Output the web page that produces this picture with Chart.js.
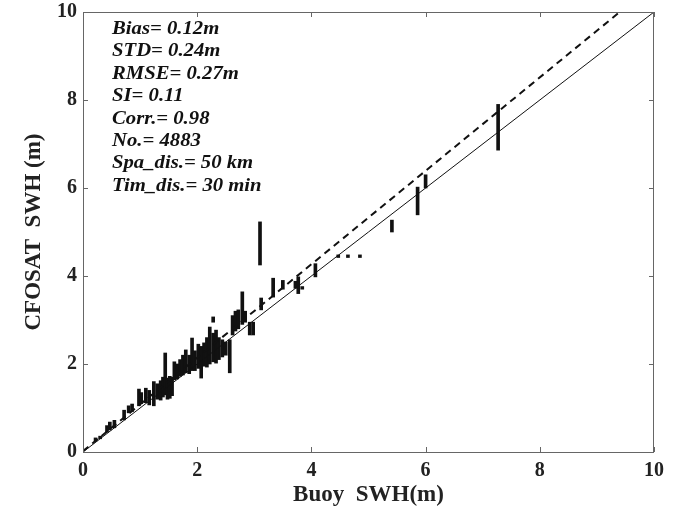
<!DOCTYPE html>
<html>
<head>
<meta charset="utf-8">
<script src="https://cdn.jsdelivr.net/npm/chart.js@4.4.1/dist/chart.umd.min.js"></script>
<style>
  html, body { margin: 0; padding: 0; background: #fff; }
  #wrap { width: 690px; height: 513px; position: relative; }
</style>
</head>
<body>
<div id="wrap"><canvas id="c"></canvas></div>
<script>
// buoy SWH of each vertical cluster, with lowest/highest CFOSAT SWH
const colX  = [0.22, 0.30, 0.42, 0.47, 0.55, 0.72, 0.80, 0.86, 0.98, 1.02, 1.10, 1.16, 1.24, 1.30, 1.36, 1.40,
               1.44, 1.48, 1.52, 1.56, 1.60, 1.65, 1.70, 1.75, 1.80, 1.86, 1.91, 1.96, 2.02, 2.07, 2.12, 2.17,
               2.22, 2.28, 2.28, 2.33, 2.38, 2.44, 2.50, 2.57, 2.62, 2.67, 2.72, 2.79, 2.84, 2.92, 2.98, 3.10,
               3.12, 3.33, 3.50, 3.72, 3.77, 3.84, 4.07, 4.47, 4.64, 4.85, 5.41, 5.86, 6.00, 7.27];
const colLo = [0.25, 0.30, 0.45, 0.50, 0.55, 0.73, 0.89, 0.92, 1.05, 1.10, 1.12, 1.07, 1.05, 1.20, 1.18, 1.25,
               1.30, 1.20, 1.22, 1.28, 1.64, 1.66, 1.72, 1.75, 1.80, 1.78, 1.85, 1.85, 1.90, 1.68, 1.95, 1.93,
               2.00, 2.05, 2.95, 2.02, 2.10, 2.16, 2.20, 1.80, 2.66, 2.75, 2.80, 2.90, 2.95, 2.66, 2.66, 4.25,
               3.23, 3.52, 3.70, 3.72, 3.60, 3.70, 3.98, 4.42, 4.42, 4.42, 5.00, 5.39, 6.00, 6.86];
const colHi = [0.32, 0.36, 0.60, 0.68, 0.72, 0.95, 1.05, 1.09, 1.43, 1.35, 1.45, 1.40, 1.60, 1.55, 1.62, 1.70,
               2.25, 1.68, 1.72, 1.70, 2.05, 2.00, 2.10, 2.20, 2.32, 2.20, 2.59, 2.30, 2.45, 2.40, 2.48, 2.60,
               2.84, 2.70, 3.07, 2.77, 2.60, 2.55, 2.50, 2.55, 3.10, 3.20, 3.23, 3.64, 3.20, 2.95, 2.95, 5.23,
               3.50, 3.95, 3.90, 3.88, 3.98, 3.76, 4.28, 4.48, 4.48, 4.48, 5.27, 6.02, 6.30, 7.90];

const oneToOne = [[0, 0], [10, 10]];
const fitLine  = [[0, 0.02], [9.4, 10]];
const axisTicks = [0, 2, 4, 6, 8, 10];

const STATS = ['Bias= 0.12m', 'STD= 0.24m', 'RMSE= 0.27m', 'SI= 0.11', 'Corr.= 0.98',
               'No.= 4883', 'Spa_dis.= 50 km', 'Tim_dis.= 30 min'];

const SERIF = '"Liberation Serif", "Times New Roman", serif';

// box, inward ticks on all four sides, stats text
const framePlugin = {
  id: 'frame',
  afterDraw(chart) {
    const { ctx, chartArea: a, scales: { x, y } } = chart;
    ctx.save();
    ctx.strokeStyle = '#666';
    ctx.lineWidth = 1;
    ctx.strokeRect(a.left + 0.5, a.top + 0.5, a.right - a.left - 1, a.bottom - a.top);
    ctx.beginPath();
    axisTicks.forEach(v => {
      const px = Math.round(x.getPixelForValue(v)) + 0.5;
      ctx.moveTo(px, a.bottom); ctx.lineTo(px, a.bottom - 5);
      ctx.moveTo(px, a.top); ctx.lineTo(px, a.top + 5);
      const py = Math.round(y.getPixelForValue(v)) + 0.5;
      ctx.moveTo(a.left, py); ctx.lineTo(a.left + 5, py);
      ctx.moveTo(a.right, py); ctx.lineTo(a.right - 5, py);
    });
    ctx.stroke();

    ctx.fillStyle = '#111';
    ctx.font = 'italic bold 18px ' + SERIF;
    ctx.textBaseline = 'alphabetic';
    STATS.forEach((s, i) => {
      ctx.save();
      ctx.translate(a.left + 29, a.top + 22 + i * 22.4);
      ctx.scale(1.15, 1);
      ctx.fillText(s, 0, 0);
      ctx.restore();
    });
    ctx.restore();
  }
};

new Chart(document.getElementById('c').getContext('2d'), {
  type: 'bar',
  data: {
    datasets: [
      {
        type: 'line',
        data: oneToOne.map(p => ({ x: p[0], y: p[1] })),
        borderColor: '#111',
        borderWidth: 1,
        pointRadius: 0,
        order: 0
      },
      {
        type: 'line',
        data: fitLine.map(p => ({ x: p[0], y: p[1] })),
        borderColor: '#111',
        borderWidth: 2,
        borderDash: [7, 5],
        pointRadius: 0,
        order: 0
      },
      {
        type: 'bar',
        data: colX.map((v, i) => ({ x: v, y: [colLo[i], colHi[i]] })),
        backgroundColor: '#111',
        borderWidth: 0,
        borderSkipped: false,
        barThickness: 3,
        order: 1
      }
    ]
  },
  options: {
    responsive: true,
    maintainAspectRatio: false,
    animation: false,
    layout: { padding: { left: 0, top: 12, right: 36, bottom: 0 } },
    plugins: { legend: { display: false }, tooltip: { enabled: false } },
    scales: {
      x: {
        type: 'linear', min: 0, max: 10, offset: false,
        grid: { display: false, drawTicks: false, offset: false },
        border: { display: false },
        ticks: { stepSize: 2, padding: 7, color: '#222', font: { family: SERIF, size: 20, weight: 'bold' } },
        title: { display: true, text: 'Buoy  SWH(m)', color: '#222', padding: { top: 0, bottom: 4 },
                 font: { family: SERIF, size: 23, weight: 'bold' } },
        afterFit: s => { s.height = 61; s.paddingLeft = 0; s.paddingRight = 0; }
      },
      y: {
        type: 'linear', min: 0, max: 10,
        grid: { display: false, drawTicks: false },
        border: { display: false },
        ticks: { stepSize: 2, padding: 6, color: '#222', font: { family: SERIF, size: 20, weight: 'bold' } },
        title: { display: true, text: 'CFOSAT  SWH (m)', color: '#222', padding: { top: 20, bottom: 0 },
                 font: { family: SERIF, size: 23, weight: 'bold' } },
        afterFit: s => { s.width = 83; s.paddingTop = 0; s.paddingBottom = 0; }
      }
    }
  },
  plugins: [framePlugin]
});
</script>
</body>
</html>
